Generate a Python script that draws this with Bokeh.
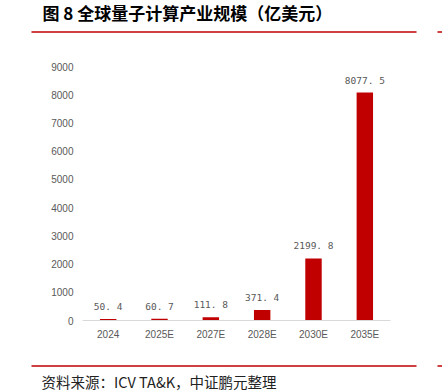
from bokeh.plotting import figure
from bokeh.layouts import column
from bokeh.models import FactorRange, Range1d, FixedTicker, ColumnDataSource
from bokeh.core.properties import value
from bokeh.embed import file_html
from bokeh.resources import INLINE

categories = ["2024", "2025E", "2027E", "2028E", "2030E", "2035E"]
values = [50.4, 60.7, 111.8, 371.4, 2199.8, 8077.5]
value_labels = ["50. 4", "60. 7", "111. 8", "371. 4", "2199. 8", "8077. 5"]
y_ticks = [0, 1000, 2000, 3000, 4000, 5000, 6000, 7000, 8000, 9000]
title_text = "图 8  全球量子计算产业规模（亿美元）"
source_text = "资料来源：ICV TA&K，中证鹏元整理"

RED = "#C00000"
GRAY = "#595959"
W = 442


def blank(height):
    f = figure(width=W, height=height, output_backend="svg", toolbar_location=None,
               x_range=Range1d(0, W), y_range=Range1d(height, 0),
               min_border=0, x_axis_type=None, y_axis_type=None)
    f.outline_line_color = None
    f.xgrid.grid_line_color = None
    f.ygrid.grid_line_color = None
    f.border_fill_color = "white"
    f.frame_align = False
    return f


# header
head = blank(40)
head.text(x=[42], y=[11.5], text=[title_text], text_font=value("Noto Sans CJK SC"),
          text_font_style="bold", text_font_size="17px", text_color="#000000",
          text_baseline="middle", text_align="left")
head.segment(x0=[31, 437], y0=[31.5, 31.5], x1=[416, 442], y1=[31.5, 31.5],
             line_color=RED, line_width=1.3)

# main chart
src = ColumnDataSource(dict(cat=categories, val=values, lab=value_labels))
p = figure(width=W, height=315, output_backend="svg", toolbar_location=None,
           x_range=FactorRange(*categories, range_padding=0),
           y_range=Range1d(0, 9000),
           min_border_left=82, min_border_right=52, min_border_top=26,
           min_border_bottom=35)
p.frame_align = False
p.outline_line_color = None
p.border_fill_color = "white"
p.xgrid.grid_line_color = None
p.ygrid.grid_line_color = None

p.vbar(x="cat", top="val", width=0.32, source=src, fill_color=RED, line_color=None)
p.text(x="cat", y="val", text="lab", source=src, text_align="center",
       text_baseline="bottom", y_offset=-7, text_font=value("DejaVu Sans Mono"),
       text_font_size="9.5px", text_color=GRAY)

p.yaxis.ticker = FixedTicker(ticks=y_ticks)
p.yaxis.axis_line_color = None
p.yaxis.major_tick_line_color = None
p.yaxis.minor_tick_line_color = None
p.yaxis.major_tick_out = 0
p.yaxis.major_tick_in = 0
p.yaxis.major_label_standoff = 9
p.yaxis.major_label_text_font = "Liberation Sans"
p.yaxis.major_label_text_font_size = "10px"
p.yaxis.major_label_text_color = GRAY

p.xaxis.axis_line_color = "#D9D9D9"
p.xaxis.axis_line_width = 1
p.xaxis.major_tick_line_color = None
p.xaxis.minor_tick_line_color = None
p.xaxis.major_tick_out = 0
p.xaxis.major_tick_in = 0
p.xaxis.major_label_standoff = 8
p.xaxis.major_label_text_font = "Liberation Sans"
p.xaxis.major_label_text_font_size = "10px"
p.xaxis.major_label_text_color = GRAY

# footer
foot = blank(36)
foot.segment(x0=[31, 437], y0=[10.5, 10.5], x1=[416, 442], y1=[10.5, 10.5],
             line_color=RED, line_width=1.3)
foot.text(x=[41], y=[26], text=[source_text], text_font=value("Noto Sans CJK SC"),
          text_font_size="14.5px", text_color="#222222",
          text_baseline="middle", text_align="left")

layout = column(head, p, foot, spacing=0)
open("out.html", "w").write(file_html(layout, INLINE))
